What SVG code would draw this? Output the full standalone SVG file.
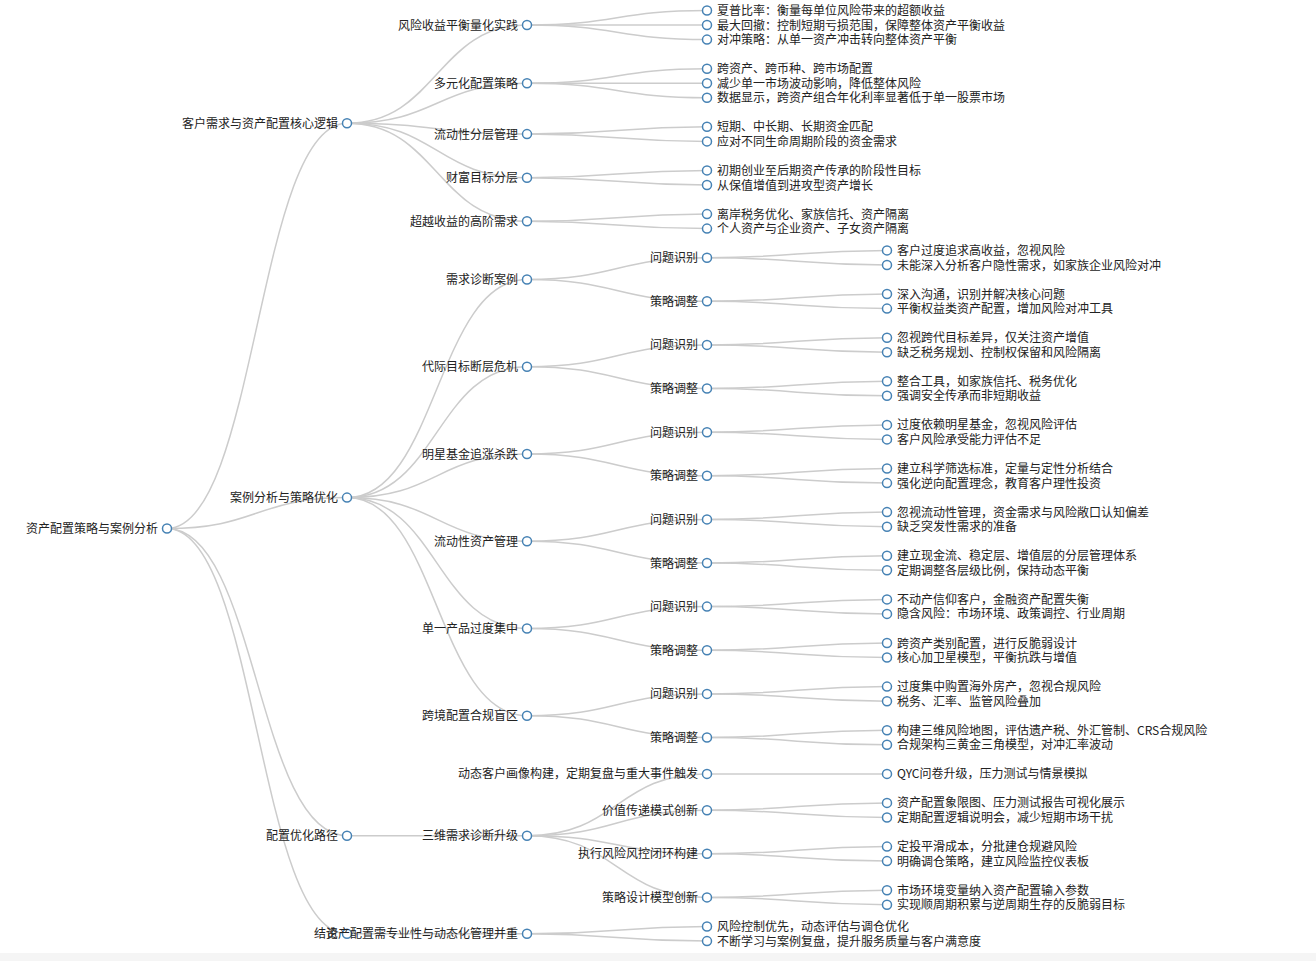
<svg xmlns="http://www.w3.org/2000/svg" width="1316" height="961" viewBox="0 0 1316 961">
<style>
.link{fill:none;stroke:#ccc;stroke-width:1.5}
.node circle{fill:#fff;stroke:steelblue;stroke-width:1.5}
.node text{font-family:"Noto Sans CJK SC","Liberation Sans",sans-serif;font-size:12px;fill:#222}
.in text{text-anchor:end}
.lf text{text-anchor:start}
</style>
<rect x="0" y="0" width="1316" height="961" fill="#fff"/>
<rect x="0" y="953" width="1316" height="8" fill="#f5f5f5"/>
<g transform="translate(0,0.5)">
<g id="links">
<path class="link" d="M167,528 C257,528 257,122.7 347,122.7"/>
<path class="link" d="M167,528 C257,528 257,497.1 347,497.1"/>
<path class="link" d="M167,528 C257,528 257,835.2 347,835.2"/>
<path class="link" d="M167,528 C257,528 257,933.3 347,933.3"/>
<path class="link" d="M347,122.7 C437,122.7 437,24.5 527,24.5"/>
<path class="link" d="M347,122.7 C437,122.7 437,82.7 527,82.7"/>
<path class="link" d="M347,122.7 C437,122.7 437,133.6 527,133.6"/>
<path class="link" d="M347,122.7 C437,122.7 437,177.2 527,177.2"/>
<path class="link" d="M347,122.7 C437,122.7 437,220.8 527,220.8"/>
<path class="link" d="M527,24.5 C617,24.5 617,10 707,10"/>
<path class="link" d="M527,24.5 C617,24.5 617,24.5 707,24.5"/>
<path class="link" d="M527,24.5 C617,24.5 617,39.1 707,39.1"/>
<path class="link" d="M527,82.7 C617,82.7 617,68.2 707,68.2"/>
<path class="link" d="M527,82.7 C617,82.7 617,82.7 707,82.7"/>
<path class="link" d="M527,82.7 C617,82.7 617,97.2 707,97.2"/>
<path class="link" d="M527,133.6 C617,133.6 617,126.3 707,126.3"/>
<path class="link" d="M527,133.6 C617,133.6 617,140.9 707,140.9"/>
<path class="link" d="M527,177.2 C617,177.2 617,169.9 707,169.9"/>
<path class="link" d="M527,177.2 C617,177.2 617,184.5 707,184.5"/>
<path class="link" d="M527,220.8 C617,220.8 617,213.6 707,213.6"/>
<path class="link" d="M527,220.8 C617,220.8 617,228.1 707,228.1"/>
<path class="link" d="M347,497.1 C437,497.1 437,279 527,279"/>
<path class="link" d="M347,497.1 C437,497.1 437,366.2 527,366.2"/>
<path class="link" d="M347,497.1 C437,497.1 437,453.5 527,453.5"/>
<path class="link" d="M347,497.1 C437,497.1 437,540.7 527,540.7"/>
<path class="link" d="M347,497.1 C437,497.1 437,628 527,628"/>
<path class="link" d="M347,497.1 C437,497.1 437,715.2 527,715.2"/>
<path class="link" d="M527,279 C617,279 617,257.2 707,257.2"/>
<path class="link" d="M527,279 C617,279 617,300.8 707,300.8"/>
<path class="link" d="M527,366.2 C617,366.2 617,344.4 707,344.4"/>
<path class="link" d="M527,366.2 C617,366.2 617,388 707,388"/>
<path class="link" d="M527,453.5 C617,453.5 617,431.7 707,431.7"/>
<path class="link" d="M527,453.5 C617,453.5 617,475.3 707,475.3"/>
<path class="link" d="M527,540.7 C617,540.7 617,518.9 707,518.9"/>
<path class="link" d="M527,540.7 C617,540.7 617,562.5 707,562.5"/>
<path class="link" d="M527,628 C617,628 617,606.1 707,606.1"/>
<path class="link" d="M527,628 C617,628 617,649.8 707,649.8"/>
<path class="link" d="M527,715.2 C617,715.2 617,693.4 707,693.4"/>
<path class="link" d="M527,715.2 C617,715.2 617,737 707,737"/>
<path class="link" d="M707,257.2 C797,257.2 797,249.9 887,249.9"/>
<path class="link" d="M707,257.2 C797,257.2 797,264.5 887,264.5"/>
<path class="link" d="M707,300.8 C797,300.8 797,293.5 887,293.5"/>
<path class="link" d="M707,300.8 C797,300.8 797,308.1 887,308.1"/>
<path class="link" d="M707,344.4 C797,344.4 797,337.2 887,337.2"/>
<path class="link" d="M707,344.4 C797,344.4 797,351.7 887,351.7"/>
<path class="link" d="M707,388 C797,388 797,380.8 887,380.8"/>
<path class="link" d="M707,388 C797,388 797,395.3 887,395.3"/>
<path class="link" d="M707,431.7 C797,431.7 797,424.4 887,424.4"/>
<path class="link" d="M707,431.7 C797,431.7 797,438.9 887,438.9"/>
<path class="link" d="M707,475.3 C797,475.3 797,468 887,468"/>
<path class="link" d="M707,475.3 C797,475.3 797,482.6 887,482.6"/>
<path class="link" d="M707,518.9 C797,518.9 797,511.6 887,511.6"/>
<path class="link" d="M707,518.9 C797,518.9 797,526.2 887,526.2"/>
<path class="link" d="M707,562.5 C797,562.5 797,555.3 887,555.3"/>
<path class="link" d="M707,562.5 C797,562.5 797,569.8 887,569.8"/>
<path class="link" d="M707,606.1 C797,606.1 797,598.9 887,598.9"/>
<path class="link" d="M707,606.1 C797,606.1 797,613.4 887,613.4"/>
<path class="link" d="M707,649.8 C797,649.8 797,642.5 887,642.5"/>
<path class="link" d="M707,649.8 C797,649.8 797,657 887,657"/>
<path class="link" d="M707,693.4 C797,693.4 797,686.1 887,686.1"/>
<path class="link" d="M707,693.4 C797,693.4 797,700.7 887,700.7"/>
<path class="link" d="M707,737 C797,737 797,729.7 887,729.7"/>
<path class="link" d="M707,737 C797,737 797,744.3 887,744.3"/>
<path class="link" d="M347,835.2 C437,835.2 437,835.2 527,835.2"/>
<path class="link" d="M527,835.2 C617,835.2 617,773.4 707,773.4"/>
<path class="link" d="M527,835.2 C617,835.2 617,809.7 707,809.7"/>
<path class="link" d="M527,835.2 C617,835.2 617,853.3 707,853.3"/>
<path class="link" d="M527,835.2 C617,835.2 617,896.9 707,896.9"/>
<path class="link" d="M707,773.4 C797,773.4 797,773.4 887,773.4"/>
<path class="link" d="M707,809.7 C797,809.7 797,802.4 887,802.4"/>
<path class="link" d="M707,809.7 C797,809.7 797,817 887,817"/>
<path class="link" d="M707,853.3 C797,853.3 797,846.1 887,846.1"/>
<path class="link" d="M707,853.3 C797,853.3 797,860.6 887,860.6"/>
<path class="link" d="M707,896.9 C797,896.9 797,889.7 887,889.7"/>
<path class="link" d="M707,896.9 C797,896.9 797,904.2 887,904.2"/>
<path class="link" d="M347,933.3 C437,933.3 437,933.3 527,933.3"/>
<path class="link" d="M527,933.3 C617,933.3 617,926 707,926"/>
<path class="link" d="M527,933.3 C617,933.3 617,940.6 707,940.6"/>
</g>
<g id="nodes">
<g id="n-root" class="node in" transform="translate(167,528)"><circle r="4.5"/><text x="-9" y="4.5">资产配置策略与案例分析</text></g>
<g id="n-A" class="node in" transform="translate(347,122.7)"><circle r="4.5"/><text x="-9" y="4.5">客户需求与资产配置核心逻辑</text></g>
<g id="n-B" class="node in" transform="translate(347,497.1)"><circle r="4.5"/><text x="-9" y="4.5">案例分析与策略优化</text></g>
<g id="n-C" class="node in" transform="translate(347,835.2)"><circle r="4.5"/><text x="-9" y="4.5">配置优化路径</text></g>
<g id="n-D" class="node in" transform="translate(347,933.3)"><circle r="4.5"/><text x="-9" y="4.5">结论</text></g>
<g id="n-A1" class="node in" transform="translate(527,24.5)"><circle r="4.5"/><text x="-9" y="4.5">风险收益平衡量化实践</text></g>
<g id="n-A2" class="node in" transform="translate(527,82.7)"><circle r="4.5"/><text x="-9" y="4.5">多元化配置策略</text></g>
<g id="n-A3" class="node in" transform="translate(527,133.6)"><circle r="4.5"/><text x="-9" y="4.5">流动性分层管理</text></g>
<g id="n-A4" class="node in" transform="translate(527,177.2)"><circle r="4.5"/><text x="-9" y="4.5">财富目标分层</text></g>
<g id="n-A5" class="node in" transform="translate(527,220.8)"><circle r="4.5"/><text x="-9" y="4.5">超越收益的高阶需求</text></g>
<g id="n-B1" class="node in" transform="translate(527,279)"><circle r="4.5"/><text x="-9" y="4.5">需求诊断案例</text></g>
<g id="n-B2" class="node in" transform="translate(527,366.2)"><circle r="4.5"/><text x="-9" y="4.5">代际目标断层危机</text></g>
<g id="n-B3" class="node in" transform="translate(527,453.5)"><circle r="4.5"/><text x="-9" y="4.5">明星基金追涨杀跌</text></g>
<g id="n-B4" class="node in" transform="translate(527,540.7)"><circle r="4.5"/><text x="-9" y="4.5">流动性资产管理</text></g>
<g id="n-B5" class="node in" transform="translate(527,628)"><circle r="4.5"/><text x="-9" y="4.5">单一产品过度集中</text></g>
<g id="n-B6" class="node in" transform="translate(527,715.2)"><circle r="4.5"/><text x="-9" y="4.5">跨境配置合规盲区</text></g>
<g id="n-C1" class="node in" transform="translate(527,835.2)"><circle r="4.5"/><text x="-9" y="4.5">三维需求诊断升级</text></g>
<g id="n-D1" class="node in" transform="translate(527,933.3)"><circle r="4.5"/><text x="-9" y="4.5">资产配置需专业性与动态化管理并重</text></g>
<g id="n-A1a" class="node lf" transform="translate(707,10)"><circle r="4.5"/><text x="10" y="4.5">夏普比率：衡量每单位风险带来的超额收益</text></g>
<g id="n-A1b" class="node lf" transform="translate(707,24.5)"><circle r="4.5"/><text x="10" y="4.5">最大回撤：控制短期亏损范围，保障整体资产平衡收益</text></g>
<g id="n-A1c" class="node lf" transform="translate(707,39.1)"><circle r="4.5"/><text x="10" y="4.5">对冲策略：从单一资产冲击转向整体资产平衡</text></g>
<g id="n-A2a" class="node lf" transform="translate(707,68.2)"><circle r="4.5"/><text x="10" y="4.5">跨资产、跨币种、跨市场配置</text></g>
<g id="n-A2b" class="node lf" transform="translate(707,82.7)"><circle r="4.5"/><text x="10" y="4.5">减少单一市场波动影响，降低整体风险</text></g>
<g id="n-A2c" class="node lf" transform="translate(707,97.2)"><circle r="4.5"/><text x="10" y="4.5">数据显示，跨资产组合年化利率显著低于单一股票市场</text></g>
<g id="n-A3a" class="node lf" transform="translate(707,126.3)"><circle r="4.5"/><text x="10" y="4.5">短期、中长期、长期资金匹配</text></g>
<g id="n-A3b" class="node lf" transform="translate(707,140.9)"><circle r="4.5"/><text x="10" y="4.5">应对不同生命周期阶段的资金需求</text></g>
<g id="n-A4a" class="node lf" transform="translate(707,169.9)"><circle r="4.5"/><text x="10" y="4.5">初期创业至后期资产传承的阶段性目标</text></g>
<g id="n-A4b" class="node lf" transform="translate(707,184.5)"><circle r="4.5"/><text x="10" y="4.5">从保值增值到进攻型资产增长</text></g>
<g id="n-A5a" class="node lf" transform="translate(707,213.6)"><circle r="4.5"/><text x="10" y="4.5">离岸税务优化、家族信托、资产隔离</text></g>
<g id="n-A5b" class="node lf" transform="translate(707,228.1)"><circle r="4.5"/><text x="10" y="4.5">个人资产与企业资产、子女资产隔离</text></g>
<g id="n-B1p" class="node in" transform="translate(707,257.2)"><circle r="4.5"/><text x="-9" y="4.5">问题识别</text></g>
<g id="n-B1s" class="node in" transform="translate(707,300.8)"><circle r="4.5"/><text x="-9" y="4.5">策略调整</text></g>
<g id="n-B2p" class="node in" transform="translate(707,344.4)"><circle r="4.5"/><text x="-9" y="4.5">问题识别</text></g>
<g id="n-B2s" class="node in" transform="translate(707,388)"><circle r="4.5"/><text x="-9" y="4.5">策略调整</text></g>
<g id="n-B3p" class="node in" transform="translate(707,431.7)"><circle r="4.5"/><text x="-9" y="4.5">问题识别</text></g>
<g id="n-B3s" class="node in" transform="translate(707,475.3)"><circle r="4.5"/><text x="-9" y="4.5">策略调整</text></g>
<g id="n-B4p" class="node in" transform="translate(707,518.9)"><circle r="4.5"/><text x="-9" y="4.5">问题识别</text></g>
<g id="n-B4s" class="node in" transform="translate(707,562.5)"><circle r="4.5"/><text x="-9" y="4.5">策略调整</text></g>
<g id="n-B5p" class="node in" transform="translate(707,606.1)"><circle r="4.5"/><text x="-9" y="4.5">问题识别</text></g>
<g id="n-B5s" class="node in" transform="translate(707,649.8)"><circle r="4.5"/><text x="-9" y="4.5">策略调整</text></g>
<g id="n-B6p" class="node in" transform="translate(707,693.4)"><circle r="4.5"/><text x="-9" y="4.5">问题识别</text></g>
<g id="n-B6s" class="node in" transform="translate(707,737)"><circle r="4.5"/><text x="-9" y="4.5">策略调整</text></g>
<g id="n-C1a" class="node in" transform="translate(707,773.4)"><circle r="4.5"/><text x="-9" y="4.5">动态客户画像构建，定期复盘与重大事件触发</text></g>
<g id="n-C1b" class="node in" transform="translate(707,809.7)"><circle r="4.5"/><text x="-9" y="4.5">价值传递模式创新</text></g>
<g id="n-C1c" class="node in" transform="translate(707,853.3)"><circle r="4.5"/><text x="-9" y="4.5">执行风险风控闭环构建</text></g>
<g id="n-C1d" class="node in" transform="translate(707,896.9)"><circle r="4.5"/><text x="-9" y="4.5">策略设计模型创新</text></g>
<g id="n-D1a" class="node lf" transform="translate(707,926)"><circle r="4.5"/><text x="10" y="4.5">风险控制优先，动态评估与调仓优化</text></g>
<g id="n-D1b" class="node lf" transform="translate(707,940.6)"><circle r="4.5"/><text x="10" y="4.5">不断学习与案例复盘，提升服务质量与客户满意度</text></g>
<g id="n-B1p1" class="node lf" transform="translate(887,249.9)"><circle r="4.5"/><text x="10" y="4.5">客户过度追求高收益，忽视风险</text></g>
<g id="n-B1p2" class="node lf" transform="translate(887,264.5)"><circle r="4.5"/><text x="10" y="4.5">未能深入分析客户隐性需求，如家族企业风险对冲</text></g>
<g id="n-B1s1" class="node lf" transform="translate(887,293.5)"><circle r="4.5"/><text x="10" y="4.5">深入沟通，识别并解决核心问题</text></g>
<g id="n-B1s2" class="node lf" transform="translate(887,308.1)"><circle r="4.5"/><text x="10" y="4.5">平衡权益类资产配置，增加风险对冲工具</text></g>
<g id="n-B2p1" class="node lf" transform="translate(887,337.2)"><circle r="4.5"/><text x="10" y="4.5">忽视跨代目标差异，仅关注资产增值</text></g>
<g id="n-B2p2" class="node lf" transform="translate(887,351.7)"><circle r="4.5"/><text x="10" y="4.5">缺乏税务规划、控制权保留和风险隔离</text></g>
<g id="n-B2s1" class="node lf" transform="translate(887,380.8)"><circle r="4.5"/><text x="10" y="4.5">整合工具，如家族信托、税务优化</text></g>
<g id="n-B2s2" class="node lf" transform="translate(887,395.3)"><circle r="4.5"/><text x="10" y="4.5">强调安全传承而非短期收益</text></g>
<g id="n-B3p1" class="node lf" transform="translate(887,424.4)"><circle r="4.5"/><text x="10" y="4.5">过度依赖明星基金，忽视风险评估</text></g>
<g id="n-B3p2" class="node lf" transform="translate(887,438.9)"><circle r="4.5"/><text x="10" y="4.5">客户风险承受能力评估不足</text></g>
<g id="n-B3s1" class="node lf" transform="translate(887,468)"><circle r="4.5"/><text x="10" y="4.5">建立科学筛选标准，定量与定性分析结合</text></g>
<g id="n-B3s2" class="node lf" transform="translate(887,482.6)"><circle r="4.5"/><text x="10" y="4.5">强化逆向配置理念，教育客户理性投资</text></g>
<g id="n-B4p1" class="node lf" transform="translate(887,511.6)"><circle r="4.5"/><text x="10" y="4.5">忽视流动性管理，资金需求与风险敞口认知偏差</text></g>
<g id="n-B4p2" class="node lf" transform="translate(887,526.2)"><circle r="4.5"/><text x="10" y="4.5">缺乏突发性需求的准备</text></g>
<g id="n-B4s1" class="node lf" transform="translate(887,555.3)"><circle r="4.5"/><text x="10" y="4.5">建立现金流、稳定层、增值层的分层管理体系</text></g>
<g id="n-B4s2" class="node lf" transform="translate(887,569.8)"><circle r="4.5"/><text x="10" y="4.5">定期调整各层级比例，保持动态平衡</text></g>
<g id="n-B5p1" class="node lf" transform="translate(887,598.9)"><circle r="4.5"/><text x="10" y="4.5">不动产信仰客户，金融资产配置失衡</text></g>
<g id="n-B5p2" class="node lf" transform="translate(887,613.4)"><circle r="4.5"/><text x="10" y="4.5">隐含风险：市场环境、政策调控、行业周期</text></g>
<g id="n-B5s1" class="node lf" transform="translate(887,642.5)"><circle r="4.5"/><text x="10" y="4.5">跨资产类别配置，进行反脆弱设计</text></g>
<g id="n-B5s2" class="node lf" transform="translate(887,657)"><circle r="4.5"/><text x="10" y="4.5">核心加卫星模型，平衡抗跌与增值</text></g>
<g id="n-B6p1" class="node lf" transform="translate(887,686.1)"><circle r="4.5"/><text x="10" y="4.5">过度集中购置海外房产，忽视合规风险</text></g>
<g id="n-B6p2" class="node lf" transform="translate(887,700.7)"><circle r="4.5"/><text x="10" y="4.5">税务、汇率、监管风险叠加</text></g>
<g id="n-B6s1" class="node lf" transform="translate(887,729.7)"><circle r="4.5"/><text x="10" y="4.5">构建三维风险地图，评估遗产税、外汇管制、CRS合规风险</text></g>
<g id="n-B6s2" class="node lf" transform="translate(887,744.3)"><circle r="4.5"/><text x="10" y="4.5">合规架构三黄金三角模型，对冲汇率波动</text></g>
<g id="n-C1a1" class="node lf" transform="translate(887,773.4)"><circle r="4.5"/><text x="10" y="4.5">QYC问卷升级，压力测试与情景模拟</text></g>
<g id="n-C1b1" class="node lf" transform="translate(887,802.4)"><circle r="4.5"/><text x="10" y="4.5">资产配置象限图、压力测试报告可视化展示</text></g>
<g id="n-C1b2" class="node lf" transform="translate(887,817)"><circle r="4.5"/><text x="10" y="4.5">定期配置逻辑说明会，减少短期市场干扰</text></g>
<g id="n-C1c1" class="node lf" transform="translate(887,846.1)"><circle r="4.5"/><text x="10" y="4.5">定投平滑成本，分批建仓规避风险</text></g>
<g id="n-C1c2" class="node lf" transform="translate(887,860.6)"><circle r="4.5"/><text x="10" y="4.5">明确调仓策略，建立风险监控仪表板</text></g>
<g id="n-C1d1" class="node lf" transform="translate(887,889.7)"><circle r="4.5"/><text x="10" y="4.5">市场环境变量纳入资产配置输入参数</text></g>
<g id="n-C1d2" class="node lf" transform="translate(887,904.2)"><circle r="4.5"/><text x="10" y="4.5">实现顺周期积累与逆周期生存的反脆弱目标</text></g>
</g>
</g>
</svg>
